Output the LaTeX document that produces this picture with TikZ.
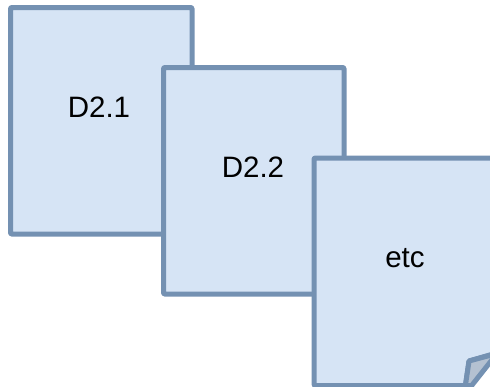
\documentclass[tikz,border=0pt]{standalone}
\usepackage{fontspec}
\setmainfont{Liberation Sans}
\definecolor{pagefill}{HTML}{D6E4F5}
\definecolor{pageline}{HTML}{7491B2}
\definecolor{foldfill}{HTML}{B4C1D1}
\tikzset{
  page/.style={draw=pageline,fill=pagefill,line width=5pt,rounded corners=1pt,line join=round},
  fold/.style={draw=pageline,fill=foldfill,line width=5pt,line join=round},
  pagetext/.style={font=\fontsize{29.5}{34}\selectfont,text=black,inner sep=0pt,anchor=base}
}
\begin{document}
\begin{tikzpicture}[x=1pt,y=-1pt]
\useasboundingbox (0,0) rectangle (490,386);
\clip (0,0) rectangle (490,386);
\path[page] (10.5,7.5) rectangle (192,234);
\path[page] (163.5,67.5) rectangle (344,294);
\path[page] (314,158) -- (500,158) -- (500,352) -- (469,361) -- (465.5,385.5) -- (314,385.5) -- cycle;
\path[fold] (465.5,385.5) .. controls (466.5,377) and (468,369) .. (469,361) -- (497,353.5) -- (471.7,385.5) -- cycle;
\node[pagetext] (d21) at (99,117) {D2.1};
\node[pagetext] (d22) at (253,177) {D2.2};
\node[pagetext] (etc) at (405,267) {etc};
\end{tikzpicture}
\end{document}
